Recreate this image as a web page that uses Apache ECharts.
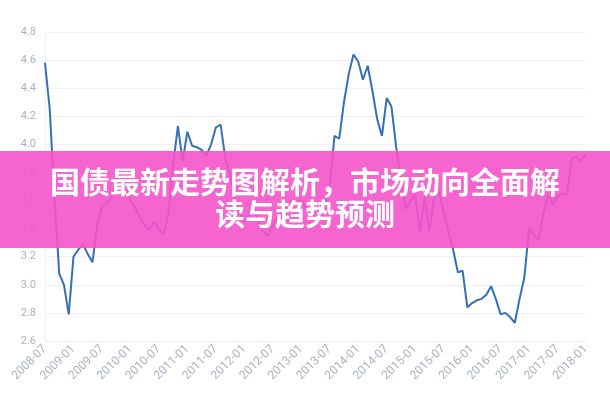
<!DOCTYPE html>
<html>
<head>
<meta charset="utf-8">
<script src="https://cdn.jsdelivr.net/npm/echarts@6/dist/echarts.min.js"></script>
<style>
html,body{margin:0;padding:0;background:#fff;}
#c{width:610px;height:400px;}
</style>
</head>
<body>
<div id="c"></div>
<script>
// Monthly categories 2008-07 .. 2018-01
var startYear = 2008, startMonth = 7, monthCount = 115;
var months = [];
for (var i = 0; i < monthCount; i++) {
  var m = startMonth - 1 + i;
  var y = startYear + Math.floor(m / 12);
  var mm = (m % 12) + 1;
  months.push(y + '-' + (mm < 10 ? '0' + mm : '' + mm));
}
// Yield values (one per month)
var yields2008_2010 = [4.58, 4.25, 3.62, 3.08, 3.00, 2.79, 3.20, 3.25, 3.29, 3.22, 3.16, 3.42,
  3.56, 3.58, 3.62, 3.74, 3.78, 3.74, 3.60, 3.55, 3.48, 3.42, 3.39, 3.45, 3.40, 3.36, 3.50, 3.85];
var yields2011_2012 = [4.13, 3.88, 4.09, 3.99, 3.98, 3.96, 3.92, 4.00, 4.12, 4.14, 3.90, 3.78,
  3.62, 3.52, 3.45, 3.50, 3.55, 3.45, 3.38, 3.35, 3.42, 3.48, 3.52, 3.56, 3.60, 3.58];
var yields2013_2014 = [3.60, 3.55, 3.52, 3.48, 3.50, 3.58, 3.70, 4.06, 4.04, 4.30, 4.50, 4.64,
  4.59, 4.46, 4.56, 4.38, 4.18, 4.06, 4.33, 4.27, 3.98, 3.75, 3.54, 3.60];
var yields2015_2016 = [3.64, 3.38, 3.63, 3.38, 3.62, 3.66, 3.52, 3.38, 3.25, 3.09, 3.10, 2.84,
  2.87, 2.89, 2.90, 2.93, 2.99, 2.90, 2.79, 2.80, 2.77, 2.73];
var yields2017 = [2.90, 3.05, 3.40, 3.36, 3.32, 3.50, 3.64, 3.57, 3.63, 3.65, 3.64, 3.90,
  3.91, 3.88, 3.93];
var yields = [].concat(yields2008_2010, yields2011_2012, yields2013_2014, yields2015_2016, yields2017);

var yTicks = [2.6, 2.8, 3.0, 3.2, 3.4, 3.6, 3.8, 4.0, 4.2, 4.4, 4.6, 4.8];
var titleLines = ['国债最新走势图解析，市场动向全面解', '读与趋势预测'];

var chart = echarts.init(document.getElementById('c'));
chart.setOption({
  animation: false,
  backgroundColor: '#ffffff',
  grid: {left: 45, right: 24, top: 32, bottom: 59, containLabel: false},
  xAxis: {
    type: 'category',
    data: months,
    boundaryGap: false,
    axisLine: {show: true, lineStyle: {color: '#eceef2'}},
    axisTick: {show: false},
    axisLabel: {
      interval: 5,
      rotate: 45,
      color: '#aab1c2',
      fontSize: 12,
      fontFamily: 'Roboto',
      margin: 6
    },
    splitLine: {show: false}
  },
  yAxis: {
    type: 'value',
    min: yTicks[0],
    max: yTicks[yTicks.length - 1],
    interval: 0.2,
    axisLine: {show: true, lineStyle: {color: '#f0f1f4'}},
    axisTick: {show: false},
    axisLabel: {
      color: '#aab1c2',
      fontSize: 11,
      fontFamily: 'Roboto',
      margin: 9,
      formatter: function (v) { return v.toFixed(1); }
    },
    splitLine: {lineStyle: {color: '#f0f1f4', width: 1}}
  },
  series: [{
    type: 'line',
    data: yields,
    showSymbol: false,
    symbol: 'none',
    lineStyle: {color: '#3470b6', width: 2},
    z: 2
  }],
  graphic: [
    {
      type: 'rect',
      left: 0, top: 151,
      shape: {width: 610, height: 97},
      style: {fill: 'rgba(245,84,202,0.9)'},
      z: 100
    },
    {
      type: 'text',
      left: 'center', top: 167,
      style: {
        text: titleLines[0],
        fill: '#ffffff',
        font: 'bold 30px "Noto Sans CJK SC"',
        textAlign: 'center'
      },
      z: 101
    },
    {
      type: 'text',
      left: 'center', top: 199,
      style: {
        text: titleLines[1],
        fill: '#ffffff',
        font: 'bold 30px "Noto Sans CJK SC"',
        textAlign: 'center'
      },
      z: 101
    }
  ]
});
</script>
</body>
</html>
